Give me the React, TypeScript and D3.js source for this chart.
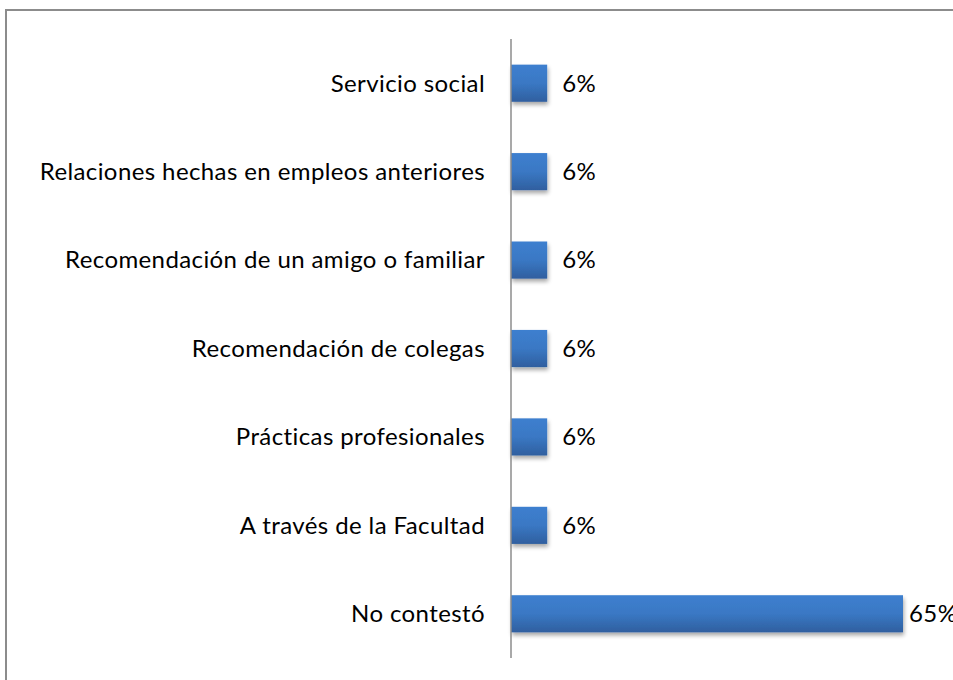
import React from "react";
import * as d3 from "d3";

const categories = [
  "Servicio social",
  "Relaciones hechas en empleos anteriores",
  "Recomendación de un amigo o familiar",
  "Recomendación de colegas",
  "Prácticas profesionales",
  "A través de la Facultad",
  "No contestó",
];
const values = [6, 6, 6, 6, 6, 6, 65];

export default function App() {
  const W = 953, H = 680;
  const axisX = 511;
  const y = d3.scaleBand<string>().domain(categories).range([39, 658]).paddingInner(0.58).paddingOuter(0.29);
  const x = d3.scaleLinear().domain([0, 65]).range([axisX, 903]);
  const font = "Lato, 'Open Sans', sans-serif";
  return (
    <svg width={W} height={H} style={{ position: "absolute", left: 0, top: 0 }}>
      <defs>
        <linearGradient id="bg" x1="0" y1="0" x2="0" y2="1">
          <stop offset="0" stopColor="#3d7fcf" />
          <stop offset="0.5" stopColor="#3a78c4" />
          <stop offset="1" stopColor="#2f5f9f" />
        </linearGradient>
        <filter id="sh" x="-10%" y="-20%" width="130%" height="160%">
          <feGaussianBlur in="SourceAlpha" stdDeviation="2" />
          <feOffset dx="1" dy="3" result="b" />
          <feComponentTransfer><feFuncA type="linear" slope="0.35" /></feComponentTransfer>
          <feMerge><feMergeNode /><feMergeNode in="SourceGraphic" /></feMerge>
        </filter>
      </defs>
      <rect x={0} y={0} width={W} height={H} fill="#fff" />
      <rect x={6} y={10} width={W + 20} height={H + 20} fill="none" stroke="#8c8c8c" strokeWidth={2} />
      {categories.map((c, i) => (
        <g key={c}>
          <rect x={x(0)} y={y(c)!} width={x(values[i]) - x(0)} height={y.bandwidth()} fill="url(#bg)" filter="url(#sh)" />
          <text x={485} y={y(c)! + y.bandwidth() / 2} dy="0.35em" textAnchor="end" fontFamily={font} fontSize={24} letterSpacing={0.4} fill="#000">{c}</text>
          <text x={Math.min(x(values[i]) + 15, 909)} y={y(c)! + y.bandwidth() / 2} dy="0.35em" fontFamily={font} fontSize={24} letterSpacing={0.4} fill="#000">{values[i]}%</text>
        </g>
      ))}
      <line x1={axisX} x2={axisX} y1={39} y2={658} stroke="#8c8c8c" strokeWidth={1.5} />
    </svg>
  );
}
